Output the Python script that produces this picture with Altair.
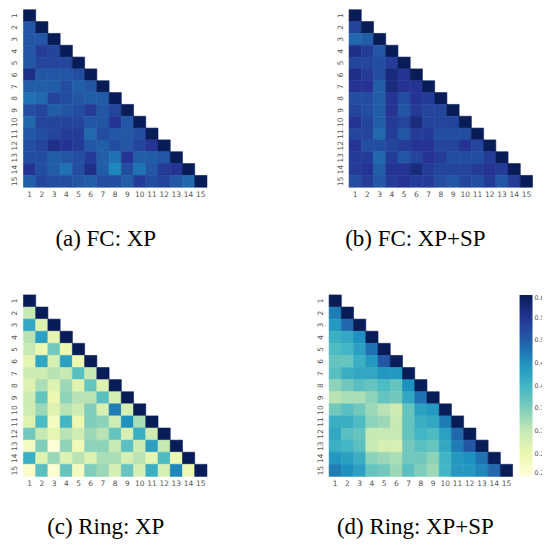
import altair as alt
import pandas as pd

idx = list(range(1, 16))

# lower-triangle values, row r (2..15) holds columns 1..r-1
fc_xp = [
    [0.51],
    [0.51, 0.51],
    [0.51, 0.54, 0.53],
    [0.51, 0.53, 0.53, 0.53],
    [0.56, 0.51, 0.51, 0.51, 0.52],
    [0.50, 0.50, 0.50, 0.52, 0.50, 0.51],
    [0.48, 0.49, 0.53, 0.52, 0.51, 0.50, 0.50],
    [0.52, 0.53, 0.50, 0.51, 0.52, 0.54, 0.51, 0.53],
    [0.49, 0.53, 0.53, 0.53, 0.53, 0.51, 0.51, 0.55, 0.51],
    [0.51, 0.52, 0.53, 0.54, 0.54, 0.49, 0.52, 0.51, 0.51, 0.52],
    [0.52, 0.53, 0.56, 0.55, 0.54, 0.51, 0.50, 0.52, 0.51, 0.53, 0.55],
    [0.52, 0.52, 0.50, 0.51, 0.52, 0.54, 0.50, 0.48, 0.55, 0.50, 0.50, 0.51],
    [0.55, 0.52, 0.50, 0.48, 0.52, 0.56, 0.50, 0.46, 0.52, 0.48, 0.51, 0.54, 0.55],
    [0.50, 0.53, 0.52, 0.52, 0.51, 0.50, 0.52, 0.52, 0.50, 0.54, 0.52, 0.53, 0.51, 0.49],
]
fc_xpsp = [
    [0.53],
    [0.49, 0.50],
    [0.56, 0.54, 0.51],
    [0.53, 0.53, 0.52, 0.54],
    [0.56, 0.54, 0.52, 0.57, 0.55],
    [0.55, 0.55, 0.50, 0.57, 0.55, 0.55],
    [0.52, 0.52, 0.50, 0.55, 0.52, 0.55, 0.54],
    [0.53, 0.52, 0.50, 0.55, 0.51, 0.54, 0.53, 0.53],
    [0.55, 0.53, 0.50, 0.54, 0.53, 0.57, 0.53, 0.53, 0.53],
    [0.53, 0.53, 0.49, 0.54, 0.51, 0.54, 0.54, 0.52, 0.52, 0.52],
    [0.55, 0.52, 0.52, 0.53, 0.54, 0.55, 0.55, 0.53, 0.53, 0.55, 0.53],
    [0.54, 0.54, 0.49, 0.54, 0.51, 0.53, 0.55, 0.54, 0.52, 0.52, 0.52, 0.54],
    [0.54, 0.55, 0.50, 0.55, 0.55, 0.57, 0.54, 0.53, 0.53, 0.53, 0.54, 0.55, 0.54],
    [0.52, 0.54, 0.51, 0.54, 0.55, 0.54, 0.54, 0.52, 0.51, 0.53, 0.52, 0.54, 0.51, 0.54],
]
ring_xp = [
    [0.30],
    [0.42, 0.27],
    [0.31, 0.43, 0.26],
    [0.30, 0.25, 0.36, 0.25],
    [0.26, 0.42, 0.28, 0.43, 0.25],
    [0.29, 0.29, 0.31, 0.30, 0.38, 0.30],
    [0.27, 0.32, 0.27, 0.33, 0.27, 0.37, 0.27],
    [0.29, 0.37, 0.25, 0.34, 0.31, 0.31, 0.38, 0.28],
    [0.29, 0.33, 0.27, 0.31, 0.29, 0.35, 0.28, 0.47, 0.28],
    [0.27, 0.39, 0.23, 0.40, 0.25, 0.35, 0.34, 0.29, 0.45, 0.32],
    [0.36, 0.30, 0.26, 0.31, 0.29, 0.33, 0.31, 0.37, 0.28, 0.41, 0.29],
    [0.23, 0.35, 0.20, 0.34, 0.24, 0.34, 0.34, 0.30, 0.38, 0.29, 0.43, 0.30],
    [0.41, 0.27, 0.33, 0.27, 0.31, 0.27, 0.32, 0.32, 0.28, 0.31, 0.26, 0.39, 0.25],
    [0.22, 0.38, 0.21, 0.37, 0.23, 0.35, 0.33, 0.28, 0.37, 0.28, 0.41, 0.28, 0.46, 0.25],
]
ring_xpsp = [
    [0.47],
    [0.44, 0.49],
    [0.41, 0.42, 0.45],
    [0.39, 0.40, 0.43, 0.48],
    [0.37, 0.37, 0.41, 0.44, 0.51],
    [0.38, 0.41, 0.42, 0.42, 0.44, 0.44],
    [0.34, 0.36, 0.38, 0.37, 0.39, 0.37, 0.45],
    [0.31, 0.32, 0.32, 0.34, 0.37, 0.36, 0.42, 0.48],
    [0.36, 0.38, 0.36, 0.33, 0.31, 0.29, 0.37, 0.43, 0.44],
    [0.41, 0.41, 0.39, 0.34, 0.33, 0.30, 0.37, 0.41, 0.42, 0.47],
    [0.42, 0.38, 0.37, 0.30, 0.30, 0.30, 0.37, 0.40, 0.39, 0.43, 0.49],
    [0.41, 0.40, 0.38, 0.30, 0.28, 0.28, 0.36, 0.38, 0.37, 0.42, 0.47, 0.51],
    [0.44, 0.43, 0.41, 0.34, 0.33, 0.32, 0.36, 0.36, 0.34, 0.40, 0.44, 0.45, 0.48],
    [0.47, 0.45, 0.43, 0.37, 0.36, 0.33, 0.38, 0.35, 0.33, 0.40, 0.44, 0.44, 0.46, 0.49],
]
diag_value = 1.0

captions = ["(a) FC: XP", "(b) FC: XP+SP", "(c) Ring: XP", "(d) Ring: XP+SP"]
legend_ticks = [0.20, 0.25, 0.30, 0.35, 0.40, 0.45, 0.50, 0.55, 0.60]
ylgnbu = ["#ffffd9", "#edf8b1", "#c7e9b4", "#7fcdbb", "#41b6c4",
          "#1d91c0", "#225ea8", "#253494", "#081d58"]


def to_frame(rows):
    recs = [{"r": 1, "c": 1, "v": diag_value}]
    for i, row in enumerate(rows):
        r = i + 2
        for j, v in enumerate(row):
            recs.append({"r": r, "c": j + 1, "v": v})
        recs.append({"r": r, "c": r, "v": diag_value})
    df = pd.DataFrame(recs)
    # same value in percent, used only for the seam-hiding cell outline
    df["pct"] = df["v"] * 100
    return df


def panel(rows, caption, title_x, title_y, height, show_legend):
    legend = None
    if show_legend:
        legend = alt.Legend(
            type="gradient", title=None, direction="vertical", orient="right",
            gradientLength=height, gradientThickness=13, offset=7,
            values=legend_ticks, format=".2f", padding=0,
            labelFont="DejaVu Sans", labelFontSize=6.3, labelColor="#444",
            labelOffset=2, labelOverlap=False, gradientStrokeWidth=0,
        )
    cscale = alt.Scale(domain=legend_ticks, range=ylgnbu, clamp=True, interpolate="rgb")
    sscale = alt.Scale(domain=[t * 100 for t in legend_ticks], range=ylgnbu,
                       clamp=True, interpolate="rgb")
    return alt.Chart(to_frame(rows)).mark_rect(strokeWidth=0.6).encode(
        x=alt.X("c:O", scale=alt.Scale(domain=idx, paddingInner=0, paddingOuter=0),
                axis=alt.Axis(title=caption, labelAngle=0, domain=False, ticks=False,
                              labelPadding=3, labelFont="DejaVu Sans", labelFontSize=7.5,
                              labelColor="#555",
                              titleFont="Liberation Serif", titleFontSize=23,
                              titleFontWeight="normal", titleColor="black",
                              titleX=title_x, titleY=title_y, titleAlign="center",
                              titleBaseline="alphabetic")),
        y=alt.Y("r:O", scale=alt.Scale(domain=idx, paddingInner=0, paddingOuter=0),
                axis=alt.Axis(title=None, labelAngle=-90, labelAlign="center",
                              labelBaseline="bottom", domain=False, ticks=False,
                              labelPadding=5, labelFont="DejaVu Sans", labelFontSize=7.5,
                              labelColor="#555")),
        color=alt.Color("v:Q", scale=cscale, legend=legend),
        stroke=alt.Stroke("pct:Q", scale=sscale, legend=None),
    ).properties(width=184, height=height)


a = panel(fc_xp, captions[0], 82, 58, 178, False)
b = panel(fc_xpsp, captions[1], 66, 58, 178, False)
c = panel(ring_xp, captions[2], 82, 57, 182, False)
d = panel(ring_xpsp, captions[3], 86, 57, 182, True)

top = alt.hconcat(a, b, spacing=127.5).resolve_scale(color="independent", stroke="independent")
bottom = alt.hconcat(c, d, spacing=107.5).resolve_scale(color="independent", stroke="independent")

chart = alt.vconcat(top, bottom, spacing=44).resolve_scale(
    color="independent", stroke="independent"
).properties(
    padding={"left": 1.5, "top": 0, "right": -8, "bottom": 0}, background="white"
).configure_view(strokeWidth=0)

chart.save("out.html", embed_options={"renderer": "svg", "actions": False})
